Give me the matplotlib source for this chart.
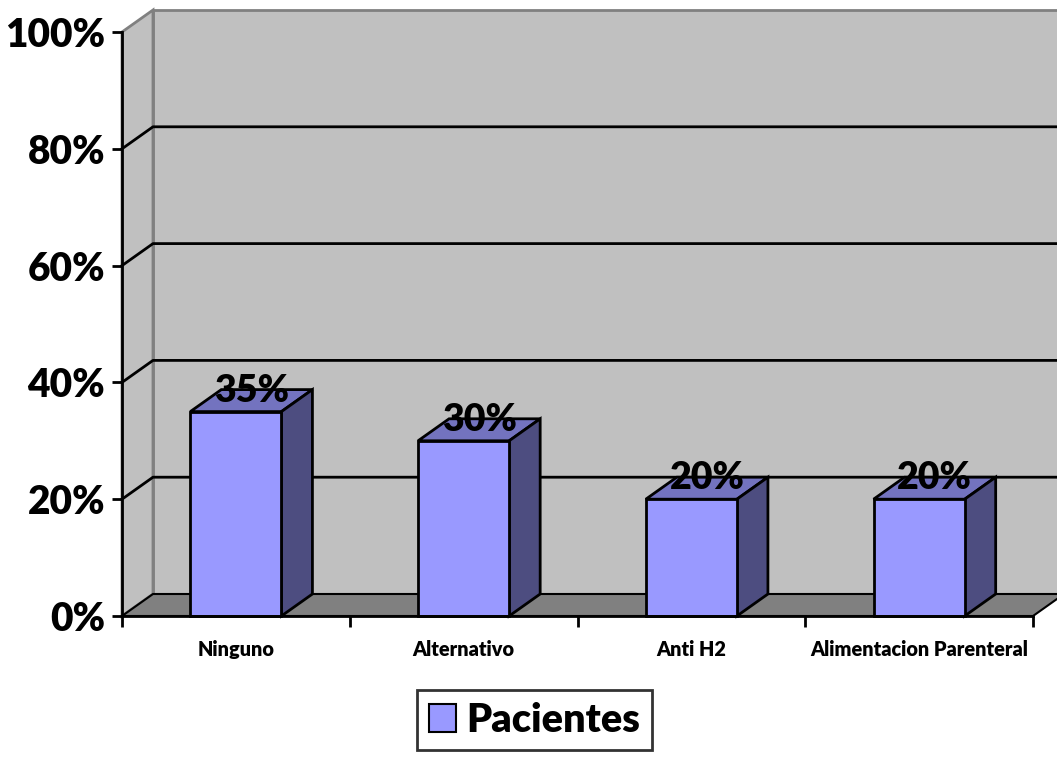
import matplotlib.pyplot as plt
import matplotlib.transforms as mtransforms
from matplotlib.patches import Polygon, Patch

# datos
categorias = ["Ninguno", "Alternativo", "Anti H2", "Alimentacion Parenteral"]
pacientes = [0.35, 0.30, 0.20, 0.20]
yticks = [0, 0.2, 0.4, 0.6, 0.8, 1.0]
serie = "Pacientes"

plt.rcParams['font.family'] = ['Lato', 'DejaVu Sans']
plt.rcParams['font.weight'] = 'heavy'

W, H = 1057, 757
fig = plt.figure(figsize=(W / 100, H / 100), dpi=100)
fig.patch.set_facecolor("white")
ax = fig.add_axes([122 / W, (H - 616) / H, (1033 - 122) / W, (616 - 32) / H])
ax.set_xlim(-0.5, len(categorias) - 0.5)
ax.set_ylim(0, 1)
ax.patch.set_visible(False)

# desplazamiento de profundidad (pixeles)
DX, DY = 31, 22
front = ax.transData
back = ax.transData + mtransforms.Affine2D().translate(DX, DY)


def quad(pts_front, pts_back, **kw):
    # pts_front en coordenadas de datos del plano frontal, pts_back del fondo
    disp = [front.transform(p) for p in pts_front] + [back.transform(p) for p in pts_back]
    poly = Polygon(disp, closed=True, transform=None, clip_on=False, **kw)
    ax.add_artist(poly)
    return poly


x0, x1 = -0.5, len(categorias) - 0.5
wall = "#c0c0c0"
edge_gray = "#808080"

# pared del fondo
quad([], [(x0, 0), (x1, 0), (x1, 1), (x0, 1)], facecolor=wall,
     edgecolor=edge_gray, lw=2, zorder=1)
# pared izquierda
quad([(x0, 0), (x0, 1)], [(x0, 1), (x0, 0)], facecolor=wall,
     edgecolor=edge_gray, lw=2, zorder=1)
# lineas de cuadricula
for yv in yticks[1:-1]:
    p0 = front.transform((x0, yv))
    p1 = back.transform((x0, yv))
    p2 = back.transform((x1, yv))
    ax.add_line(plt.Line2D([p0[0], p1[0], p2[0]], [p0[1], p1[1], p2[1]],
                           transform=None, color="black", lw=2, clip_on=False, zorder=2))
# piso
quad([(x1, 0), (x0, 0)], [(x0, 0), (x1, 0)], facecolor="#808080",
     edgecolor="black", lw=1.5, zorder=3)

# barras 3D
ancho = 0.4
for i, v in enumerate(pacientes):
    a, b = i - ancho / 2, i + ancho / 2
    quad([(a, v), (b, v)], [(b, v), (a, v)], facecolor="#7373bf",
         edgecolor="black", lw=2, joinstyle="miter", zorder=4)
    quad([(b, 0), (b, v)], [(b, v), (b, 0)], facecolor="#4d4d80",
         edgecolor="black", lw=2, joinstyle="miter", zorder=4)
    quad([(a, 0), (b, 0), (b, v), (a, v)], [], facecolor="#9999ff",
         edgecolor="black", lw=2, joinstyle="miter", zorder=5)
    tx, ty = front.transform((i, v))
    ax.text(tx + DX / 2, ty + DY / 2 + 10, f"{v:.0%}", transform=None,
            ha="center", va="center", fontsize=27, fontweight="heavy",
            color="black", zorder=6, clip_on=False)

# ejes
for s in ["top", "right"]:
    ax.spines[s].set_visible(False)
for s in ["left", "bottom"]:
    ax.spines[s].set_linewidth(2)
    ax.spines[s].set_zorder(7)
ax.set_yticks(yticks)
ax.set_yticklabels([f"{t:.0%}" for t in yticks])
ax.tick_params(axis="y", direction="out", length=7, width=2, pad=5,
               labelsize=28)
ax.set_xticks([k - 0.5 for k in range(len(categorias) + 1)])
ax.set_xticklabels([])
ax.tick_params(axis="x", which="major", direction="out", length=8, width=2)
ax.set_xticks(range(len(categorias)), minor=True)
ax.set_xticklabels(categorias, minor=True)
ax.tick_params(axis="x", which="minor", length=0, pad=17, labelsize=14.3)

leg = fig.legend(handles=[Patch(facecolor="#9999ff", edgecolor="black", lw=1.5, label=serie)],
                 loc="center", bbox_to_anchor=(534.5 / W, 1 - 720 / H),
                 fontsize=28.5, frameon=True, fancybox=False, handlelength=0.7,
                 handleheight=0.7, handletextpad=0.25, borderpad=0.3,
                 borderaxespad=0)
leg.get_frame().set_edgecolor("black")
leg.get_frame().set_linewidth(2)

fig.savefig("out.png", dpi=100)
